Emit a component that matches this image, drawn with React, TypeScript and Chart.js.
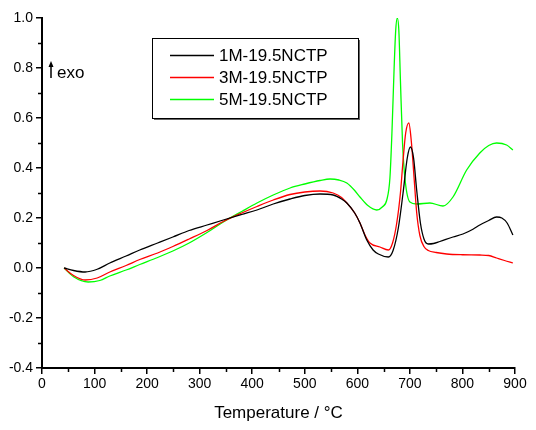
import React, { useEffect, useRef } from "react";
import { Chart, registerables } from "chart.js";

Chart.register(...registerables);

const seriesLabels = ["1M-19.5NCTP", "3M-19.5NCTP", "5M-19.5NCTP"];
const seriesColors = ["#000000", "#ff0000", "#00ff00"];

const tempBlack = [42, 60, 82, 105, 129, 160, 186, 220, 249, 280, 314, 345, 380, 409, 440, 472, 500, 529, 554, 570, 580, 595, 605, 618, 630, 640, 659, 668, 678, 687, 695, 701, 707, 713, 720, 727, 735, 745, 757, 782, 801, 820, 833, 850, 865, 875, 885, 896];
const valBlack = [0, -0.01, -0.016, -0.005, 0.02, 0.048, 0.072, 0.1, 0.124, 0.15, 0.172, 0.192, 0.214, 0.232, 0.256, 0.276, 0.29, 0.296, 0.292, 0.276, 0.26, 0.22, 0.18, 0.112, 0.072, 0.056, 0.044, 0.07, 0.16, 0.3, 0.44, 0.484, 0.44, 0.31, 0.18, 0.115, 0.096, 0.098, 0.106, 0.124, 0.136, 0.155, 0.172, 0.19, 0.204, 0.2, 0.18, 0.132];

const tempRed = [42, 60, 82, 105, 129, 160, 186, 220, 249, 280, 314, 345, 380, 409, 440, 472, 500, 529, 554, 570, 580, 595, 605, 615, 624, 643, 659, 667, 675, 682, 687, 692, 698, 703, 708, 713, 719, 727, 735, 750, 770, 800, 833, 850, 865, 880, 896];
const valRed = [0, -0.03, -0.048, -0.04, -0.016, 0.01, 0.034, 0.06, 0.086, 0.116, 0.15, 0.186, 0.22, 0.246, 0.272, 0.294, 0.304, 0.308, 0.3, 0.282, 0.26, 0.22, 0.18, 0.13, 0.1, 0.084, 0.072, 0.1, 0.18, 0.3, 0.43, 0.54, 0.58, 0.5, 0.36, 0.22, 0.13, 0.085, 0.07, 0.062, 0.056, 0.053, 0.052, 0.05, 0.04, 0.03, 0.02];

const tempGreen = [42, 60, 88, 110, 129, 160, 186, 220, 249, 280, 314, 345, 380, 409, 440, 472, 500, 529, 548, 565, 580, 595, 605, 620, 637, 648, 656, 662, 666, 670, 673, 676, 679, 682, 686, 691, 700, 713, 738, 763, 782, 808, 833, 850, 865, 884, 896];
const valGreen = [0, -0.035, -0.056, -0.05, -0.032, -0.008, 0.014, 0.042, 0.068, 0.1, 0.142, 0.184, 0.226, 0.26, 0.292, 0.32, 0.336, 0.35, 0.356, 0.352, 0.34, 0.31, 0.284, 0.25, 0.232, 0.245, 0.272, 0.36, 0.55, 0.8, 0.95, 1.0, 0.95, 0.75, 0.5, 0.35, 0.264, 0.256, 0.26, 0.248, 0.284, 0.392, 0.46, 0.49, 0.5, 0.492, 0.472];

const xMin = 0;
const xMax = 900;
const yMin = -0.4;
const yMax = 1.0;
const xMinorStep = 50;
const yMinorStep = 0.1;

const FONT = "'Liberation Sans', Arial, sans-serif";

function zip(xs: number[], ys: number[]) {
  return xs.map((x, i) => ({ x, y: ys[i] }));
}

const decorPlugin = {
  id: "decor",
  afterDraw(chart: any) {
    const ctx = chart.ctx as CanvasRenderingContext2D;
    const xs = chart.scales.x;
    const ys = chart.scales.y;
    const area = chart.chartArea;
    ctx.save();
    // minor ticks
    ctx.strokeStyle = "#000";
    ctx.lineWidth = 1.5;
    ctx.beginPath();
    for (let v = xMin + xMinorStep; v < xMax; v += 2 * xMinorStep) {
      const px = Math.round(xs.getPixelForValue(v)) + 0.5;
      ctx.moveTo(px, area.bottom);
      ctx.lineTo(px, area.bottom + 4);
    }
    for (let k = 1; k < Math.round((yMax - yMin) / yMinorStep); k += 2) {
      const v = yMin + k * yMinorStep;
      const py = Math.round(ys.getPixelForValue(v)) + 0.5;
      ctx.moveTo(area.left, py);
      ctx.lineTo(area.left - 4, py);
    }
    ctx.stroke();

    // exo arrow
    ctx.fillStyle = "#000";
    ctx.lineWidth = 1.5;
    ctx.beginPath();
    ctx.moveTo(51, 78);
    ctx.lineTo(51, 66);
    ctx.stroke();
    ctx.beginPath();
    ctx.moveTo(51, 61);
    ctx.lineTo(53.5, 67);
    ctx.lineTo(48.5, 67);
    ctx.closePath();
    ctx.fill();
    ctx.font = `17px ${FONT}`;
    ctx.textBaseline = "alphabetic";
    ctx.textAlign = "left";
    ctx.fillText("exo", 57, 78);

    // legend box
    const bx = 152, by = 38, bw = 206, bh = 80;
    ctx.fillStyle = "#666";
    ctx.fillRect(bx + 2, by + 2, bw, bh);
    ctx.fillStyle = "#fff";
    ctx.fillRect(bx, by, bw, bh);
    ctx.strokeStyle = "#000";
    ctx.lineWidth = 1;
    ctx.strokeRect(bx + 0.5, by + 0.5, bw, bh);
    const rows = [55, 77, 99];
    chart.data.datasets.forEach((ds: any, i: number) => {
      ctx.strokeStyle = ds.borderColor;
      ctx.lineWidth = 1.3;
      ctx.beginPath();
      ctx.moveTo(170, rows[i] + 0.5);
      ctx.lineTo(214, rows[i] + 0.5);
      ctx.stroke();
      ctx.fillStyle = "#000";
      ctx.font = `17px ${FONT}`;
      ctx.textBaseline = "middle";
      ctx.fillText(ds.label, 219, rows[i] + 1);
    });
    ctx.restore();
  },
};

export default function App() {
  const ref = useRef<HTMLCanvasElement>(null);
  useEffect(() => {
    document.body.style.margin = "0";
    const canvas = ref.current!;
    const temps = [tempBlack, tempRed, tempGreen];
    const vals = [valBlack, valRed, valGreen];
    const chart = new Chart(canvas, {
      type: "line",
      data: {
        datasets: seriesLabels.map((label, i) => ({
          label,
          data: zip(temps[i], vals[i]),
          borderColor: seriesColors[i],
          borderWidth: 1.3,
          pointRadius: 0,
          fill: false,
          cubicInterpolationMode: "monotone" as const,
        })),
      },
      options: {
        responsive: false,
        animation: false,
        layout: { padding: { left: 0, right: 21, top: 18, bottom: 0 } },
        plugins: { legend: { display: false }, tooltip: { enabled: false } },
        scales: {
          x: {
            type: "linear",
            min: xMin,
            max: xMax,
            ticks: {
              stepSize: 100,
              color: "#000",
              font: { family: FONT, size: 14 },
              padding: 2,
              maxRotation: 0,
            },
            grid: { drawOnChartArea: false, drawTicks: true, tickLength: 6, color: "#000", lineWidth: 1.5 },
            border: { display: true, color: "#000", width: 2 },
            title: {
              display: true,
              text: "Temperature / °C",
              color: "#000",
              font: { family: FONT, size: 17 },
              padding: { top: 0, bottom: 6 },
            },
            afterFit: (s: any) => {
              s.height = 62;
            },
          },
          y: {
            type: "linear",
            min: yMin,
            max: yMax,
            ticks: {
              stepSize: 0.2,
              color: "#000",
              font: { family: FONT, size: 14 },
              padding: 3,
              callback: (v: any) => {
                const n = Number(v);
                return (Math.abs(n) < 1e-9 ? 0 : n).toFixed(1);
              },
            },
            grid: { drawOnChartArea: false, drawTicks: true, tickLength: 6, color: "#000", lineWidth: 1.5 },
            border: { display: true, color: "#000", width: 2 },
            afterFit: (s: any) => {
              s.width = 42;
            },
          },
        },
      },
      plugins: [decorPlugin],
    });
    return () => chart.destroy();
  }, []);
  return <canvas ref={ref} width={536} height={430} />;
}
